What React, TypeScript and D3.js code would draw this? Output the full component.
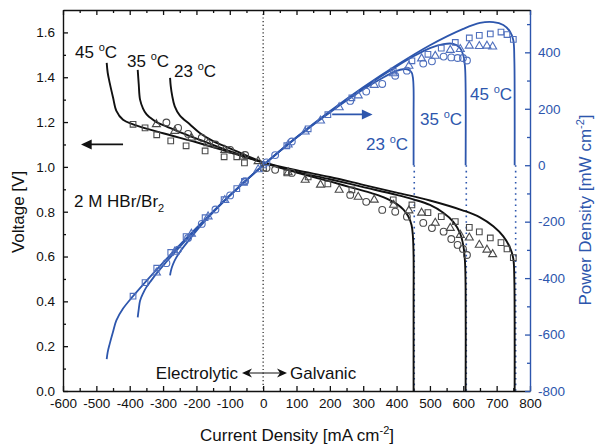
import React, { useEffect, useRef } from 'react';
import * as d3 from 'd3';

// model curves: current density [mA cm-2], voltage [V], power [mW cm-2]
const I45 = [-469, -466, -460, -450, -440, -420, -390, -300, -200, -100, 0, 100, 200, 300, 400, 500, 600, 650, 690, 720, 740, 750, 753, 754, 754];
const V45 = [1.464, 1.42, 1.375, 1.31, 1.25, 1.21, 1.19, 1.15, 1.11, 1.065, 1.02, 0.985, 0.955, 0.92, 0.885, 0.85, 0.805, 0.775, 0.735, 0.69, 0.64, 0.59, 0.5, 0.3, 0];
const P45 = [-687, -662, -633, -590, -550, -508, -464, -345, -222, -107, 0, 99, 191, 276, 354, 425, 483, 504, 507, 497, 474, 443, 377, 226, 0];

const I35 = [-376, -373, -369, -360, -350, -339, -320, -289, -250, -189, -100, 0, 100, 200, 300, 400, 450, 500, 540, 570, 590, 600, 605, 607, 607];
const V35 = [1.433, 1.37, 1.3, 1.26, 1.235, 1.22, 1.2, 1.18, 1.155, 1.12, 1.07, 1.02, 0.978, 0.945, 0.91, 0.875, 0.855, 0.83, 0.795, 0.755, 0.705, 0.65, 0.58, 0.45, 0];
const P35 = [-539, -511, -480, -454, -432, -414, -384, -341, -289, -212, -107, 0, 98, 189, 273, 350, 385, 415, 429, 430, 416, 390, 351, 273, 0];

const I23 = [-279, -277, -273, -265, -250, -220, -189, -150, -89, 0, 100, 200, 260, 320, 360, 400, 420, 435, 445, 449, 451, 451, 451];
const V23 = [1.397, 1.36, 1.32, 1.27, 1.23, 1.19, 1.15, 1.115, 1.076, 1.02, 0.975, 0.935, 0.91, 0.885, 0.865, 0.835, 0.81, 0.78, 0.74, 0.69, 0.6, 0.4, 0];
const P23 = [-390, -377, -360, -337, -308, -262, -217, -167, -96, 0, 98, 187, 237, 283, 311, 334, 340, 339, 329, 310, 271, 180, 0];

// measured points
const sqI = [-390, -354, -319, -277, -231, -174, -117, -79, -56, 1, 71, 135, 194, 266, 390, 446, 494, 534, 576, 618, 648, 681, 713, 731, 750];
const sqV = [1.19, 1.174, 1.143, 1.116, 1.094, 1.071, 1.045, 1.045, 1.018, 0.995, 0.973, 0.955, 0.924, 0.897, 0.853, 0.83, 0.796, 0.778, 0.756, 0.73, 0.71, 0.683, 0.662, 0.634, 0.595];
const sqP = [-464, -416, -365, -309, -253, -186, -122, -83, -57, 1, 69, 129, 179, 239, 333, 370, 393, 415, 435, 451, 460, 465, 472, 463, 446];

const triI = [-320, -265, -215, -165, -115, -60, -15, 75, 126, 172, 228, 285, 333, 391, 437, 475, 516, 561, 591, 618, 648, 671, 688];
const triV = [1.19, 1.16, 1.13, 1.105, 1.075, 1.045, 1.025, 0.975, 0.942, 0.92, 0.897, 0.866, 0.853, 0.83, 0.805, 0.795, 0.75, 0.727, 0.696, 0.684, 0.652, 0.63, 0.61];
const triP = [-381, -307, -243, -182, -124, -63, -15, 73, 119, 158, 205, 247, 284, 325, 352, 378, 387, 408, 411, 423, 422, 423, 420];

const cirI = [-290, -255, -225, -184, -143, -99, -54, 10, 36, 86, 261, 309, 357, 396, 431, 480, 506, 541, 564, 583, 599, 611];
const cirV = [1.198, 1.174, 1.147, 1.13, 1.1, 1.076, 1.053, 0.995, 0.987, 0.973, 0.875, 0.844, 0.808, 0.8, 0.778, 0.75, 0.727, 0.711, 0.678, 0.652, 0.634, 0.607];
const cirP = [-347, -299, -258, -208, -157, -107, -57, 10, 36, 84, 228, 261, 288, 317, 335, 360, 368, 385, 382, 380, 380, 371];

// dotted guides under the power drops
const limits = [453, 609, 757];

const xTicks = [-600, -500, -400, -300, -200, -100, 0, 100, 200, 300, 400, 500, 600, 700, 800];
const vTicks = [0, 0.2, 0.4, 0.6, 0.8, 1.0, 1.2, 1.4, 1.6];
const pTicks = [-800, -600, -400, -200, 0, 200, 400];

const BLUE = '#2d56ad';
const FONT = 'Liberation Sans, Arial, sans-serif';

const zip = (a: number[], b: number[]) => a.map((v, i) => [v, b[i]] as [number, number]);

export default function App() {
  const ref = useRef<SVGSVGElement>(null);

  useEffect(() => {
    const svg = d3.select(ref.current);
    svg.selectAll('*').remove();

    const x = d3.scaleLinear().domain([-600, 800]).range([63, 530]);
    const yV = d3.scaleLinear().domain([0, 1.7]).range([391, 10]);
    const yP = d3.scaleLinear().domain([-800, 550]).range([391, 10]);

    svg.append('rect').attr('width', 596).attr('height', 445).attr('fill', 'white');

    // zero current guide
    svg.append('line')
      .attr('x1', x(0)).attr('x2', x(0)).attr('y1', 10).attr('y2', 391)
      .attr('stroke', '#222').attr('stroke-width', 1.2).attr('stroke-dasharray', '1.2,2.5');

    // limiting current guides
    svg.selectAll('.lim').data(limits).enter().append('line')
      .attr('x1', d => x(d)).attr('x2', d => x(d))
      .attr('y1', yP(0)).attr('y2', yP(-800))
      .attr('stroke', BLUE).attr('stroke-width', 1.6).attr('stroke-dasharray', '1.6,4');

    const lineV = d3.line<[number, number]>().x(d => x(d[0])).y(d => yV(d[1])).curve(d3.curveCatmullRom.alpha(0.5));
    const lineP = d3.line<[number, number]>().x(d => x(d[0])).y(d => yP(d[1])).curve(d3.curveCatmullRom.alpha(0.5));

    const models = [[I45, V45, P45], [I35, V35, P35], [I23, V23, P23]];
    models.forEach(([I, V, P]) => {
      svg.append('path').attr('d', lineV(zip(I, V))).attr('fill', 'none')
        .attr('stroke', '#111').attr('stroke-width', 1.9);
      svg.append('path').attr('d', lineP(zip(I, P))).attr('fill', 'none')
        .attr('stroke', BLUE).attr('stroke-width', 1.8);
    });

    // markers
    const sets = [
      { I: sqI, V: sqV, P: sqP, sym: d3.symbolSquare, size: 32 },
      { I: triI, V: triV, P: triP, sym: d3.symbolTriangle, size: 28 },
      { I: cirI, V: cirV, P: cirP, sym: d3.symbolCircle, size: 36 },
    ];
    sets.forEach(s => {
      const shape = d3.symbol().type(s.sym).size(s.size)();
      svg.append('g').selectAll('path').data(zip(s.I, s.V)).enter().append('path')
        .attr('d', shape).attr('transform', d => `translate(${x(d[0])},${yV(d[1])})`)
        .attr('fill', 'none').attr('stroke', '#4a4a4a').attr('stroke-width', 1.1);
      svg.append('g').selectAll('path').data(zip(s.I, s.P)).enter().append('path')
        .attr('d', shape).attr('transform', d => `translate(${x(d[0])},${yP(d[1])})`)
        .attr('fill', 'none').attr('stroke', '#4f6fbd').attr('stroke-width', 1.1);
    });

    // axes
    const styleAxis = (g: any, col: string) => {
      g.attr('color', col).attr('font-family', FONT).attr('font-size', 13.5);
      g.selectAll('path.domain').attr('stroke-width', 1.4);
      g.selectAll('.tick line').attr('stroke-width', 1.3);
    };
    const fmt = (d: any) => String(d);

    const bottom = svg.append('g').attr('transform', `translate(0,391)`)
      .call(d3.axisBottom(x).tickValues(xTicks).tickSize(-5).tickSizeOuter(0).tickPadding(7).tickFormat(fmt));
    styleAxis(bottom, '#111');
    const bottomMinor = svg.append('g').attr('transform', `translate(0,391)`)
      .call(d3.axisBottom(x).tickValues(d3.range(-550, 800, 100)).tickSize(-3).tickFormat(() => ''));
    bottomMinor.select('.domain').remove();
    styleAxis(bottomMinor, '#111');

    const top = svg.append('g').attr('transform', `translate(0,10)`)
      .call(d3.axisTop(x).tickValues(xTicks).tickSize(-5).tickSizeOuter(0).tickFormat(() => ''));
    styleAxis(top, '#111');
    const topMinor = svg.append('g').attr('transform', `translate(0,10)`)
      .call(d3.axisTop(x).tickValues(d3.range(-550, 800, 100)).tickSize(-3).tickFormat(() => ''));
    topMinor.select('.domain').remove();
    styleAxis(topMinor, '#111');

    const left = svg.append('g').attr('transform', `translate(63,0)`)
      .call(d3.axisLeft(yV).tickValues(vTicks).tickSize(-5).tickSizeOuter(0).tickPadding(8).tickFormat(d3.format('.1f')));
    styleAxis(left, '#111');
    const leftMinor = svg.append('g').attr('transform', `translate(63,0)`)
      .call(d3.axisLeft(yV).tickValues(d3.range(0.1, 1.7, 0.2)).tickSize(-3).tickFormat(() => ''));
    leftMinor.select('.domain').remove();
    styleAxis(leftMinor, '#111');

    const right = svg.append('g').attr('transform', `translate(530,0)`)
      .call(d3.axisRight(yP).tickValues(pTicks).tickSize(-5).tickSizeOuter(0).tickPadding(8).tickFormat(fmt));
    styleAxis(right, BLUE);
    const rightMinor = svg.append('g').attr('transform', `translate(530,0)`)
      .call(d3.axisRight(yP).tickValues(d3.range(-700, 550, 200)).tickSize(-3).tickFormat(() => ''));
    rightMinor.select('.domain').remove();
    styleAxis(rightMinor, BLUE);

    // axis titles
    const xt = svg.append('text').attr('x', 297).attr('y', 441).attr('text-anchor', 'middle')
      .attr('font-family', FONT).attr('font-size', 17).attr('fill', '#111');
    xt.append('tspan').text('Current Density [mA cm');
    xt.append('tspan').attr('dy', -7).attr('font-size', 11).text('-2');
    xt.append('tspan').attr('dy', 7).text(']');

    svg.append('text').attr('transform', 'translate(24,212) rotate(-90)').attr('text-anchor', 'middle')
      .attr('font-family', FONT).attr('font-size', 17).attr('fill', '#111').text('Voltage [V]');

    const rt = svg.append('text').attr('transform', 'translate(591,210) rotate(-90)').attr('text-anchor', 'middle')
      .attr('font-family', FONT).attr('font-size', 17).attr('fill', BLUE);
    rt.append('tspan').text('Power Density [mW cm');
    rt.append('tspan').attr('dy', -7).attr('font-size', 11).text('-2');
    rt.append('tspan').attr('dy', 7).text(']');

    // temperature labels
    const temps = [
      { t: '45', x: 75, y: 58, c: '#111' },
      { t: '35', x: 127, y: 67, c: '#111' },
      { t: '23', x: 174, y: 77, c: '#111' },
      { t: '23', x: 366, y: 150, c: BLUE },
      { t: '35', x: 420, y: 125, c: BLUE },
      { t: '45', x: 470, y: 100, c: BLUE },
    ];
    temps.forEach(d => {
      const t = svg.append('text').attr('x', d.x).attr('y', d.y)
        .attr('font-family', FONT).attr('font-size', 17).attr('fill', d.c);
      t.append('tspan').text(d.t + ' ');
      t.append('tspan').attr('dy', -7).attr('font-size', 11).text('o');
      t.append('tspan').attr('dy', 7).text('C');
    });

    const hb = svg.append('text').attr('x', 74).attr('y', 207)
      .attr('font-family', FONT).attr('font-size', 17).attr('fill', '#111');
    hb.append('tspan').text('2 M HBr/Br');
    hb.append('tspan').attr('dy', 5).attr('font-size', 11).text('2');

    // direction arrows
    svg.append('line').attr('x1', x(-420)).attr('x2', x(-535)).attr('y1', yV(1.1)).attr('y2', yV(1.1))
      .attr('stroke', '#111').attr('stroke-width', 1.8);
    svg.append('path')
      .attr('d', `M${x(-546)},${yV(1.1)} L${x(-514)},${yV(1.1) - 5} L${x(-514)},${yV(1.1) + 5} Z`)
      .attr('fill', '#111');
    svg.append('line').attr('x1', x(207)).attr('x2', x(315)).attr('y1', yP(180)).attr('y2', yP(180))
      .attr('stroke', BLUE).attr('stroke-width', 1.8);
    svg.append('path')
      .attr('d', `M${x(328)},${yP(180)} L${x(296)},${yP(180) - 5} L${x(296)},${yP(180) + 5} Z`)
      .attr('fill', BLUE);

    // electrolytic / galvanic
    svg.append('text').attr('x', 238).attr('y', 379).attr('text-anchor', 'end')
      .attr('font-family', FONT).attr('font-size', 17).attr('fill', '#111').text('Electrolytic');
    svg.append('text').attr('x', 290).attr('y', 379)
      .attr('font-family', FONT).attr('font-size', 17).attr('fill', '#111').text('Galvanic');
    svg.append('line').attr('x1', 244).attr('x2', 285).attr('y1', 373).attr('y2', 373)
      .attr('stroke', '#111').attr('stroke-width', 1);
    svg.append('path').attr('d', 'M242,373 L252,368.5 L249,373 L252,377.5 Z').attr('fill', '#111');
    svg.append('path').attr('d', 'M287,373 L277,368.5 L280,373 L277,377.5 Z').attr('fill', '#111');
  }, []);

  return (
    <svg ref={ref} width={596} height={445}
      style={{ position: 'absolute', left: 0, top: 0, display: 'block' }} />
  );
}
